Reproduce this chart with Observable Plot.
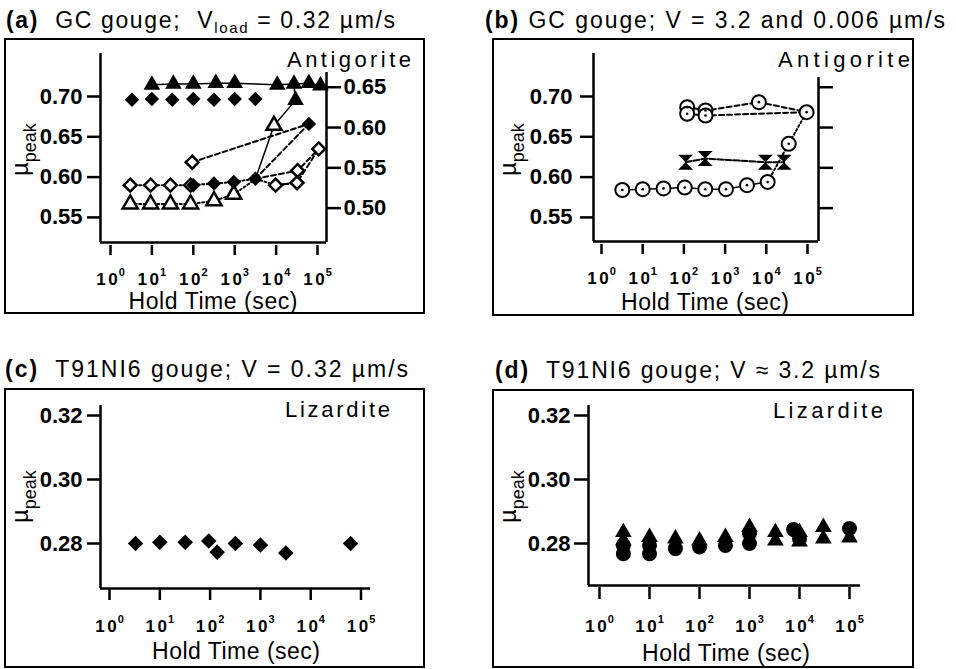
<!DOCTYPE html>
<html><head><meta charset="utf-8">
<script src="https://cdn.jsdelivr.net/npm/d3@7"></script>
<script src="https://cdn.jsdelivr.net/npm/@observablehq/plot@0.6"></script>
<style>
body{margin:0;background:#fff;}
#wrap{position:relative;width:956px;height:669px;overflow:hidden;background:#fff;}
#wrap svg{position:absolute;left:0;top:0;}
</style></head><body><div id="wrap"></div>
<script>
// ================= DATA =================
// common x ticks (hold time, s)
const holdTicks = [1, 10, 100, 1000, 10000, 100000];
const muTicksAB = [0.55, 0.60, 0.65, 0.70];
const muTicksRightA = [0.50, 0.55, 0.60, 0.65];
const muTicksCD = [0.28, 0.30, 0.32];

// panel (a) — left axis: diamonds; right axis: triangles
const aTopDiaT  = [3.3, 10, 31, 100, 316, 1000, 3160];
const aTopDiaMu = [0.696, 0.697, 0.696, 0.697, 0.696, 0.697, 0.697];
const aTopTriT   = [10, 33, 100, 350, 1000, 10700, 27000, 62000, 118000];
const aTopTriMuR = [0.653, 0.654, 0.654, 0.655, 0.655, 0.653, 0.654, 0.655, 0.652];
const aLowOpenDiaT  = [3, 9.3, 28, 86, 9700, 32000];
const aLowOpenDiaMu = [0.590, 0.590, 0.590, 0.590, 0.590, 0.593];
const aLowFillDiaT  = [100, 316, 950, 3160];
const aLowFillDiaMu = [0.590, 0.592, 0.594, 0.598];
const aHighOpenDiaT  = [94, 33000, 107000];
const aHighOpenDiaMu = [0.6185, 0.608, 0.635];
const aHighFillDiaT  = [62000];
const aHighFillDiaMu = [0.666];
const aOpenTriT   = [3, 9.3, 28, 86, 316, 950, 8900];
const aOpenTriMuR = [0.505, 0.505, 0.505, 0.505, 0.509, 0.517, 0.6025];
const aMidFillTriT   = [29500];
const aMidFillTriMuR = [0.634];
// connecting lines in (a)
const aDiaDotT  = [3, 9.3, 28, 86, 316, 950, 3160, 9700, 32000];
const aDiaDotMu = [0.590, 0.590, 0.590, 0.590, 0.592, 0.594, 0.598, 0.590, 0.593];
const aTriDotT   = [3, 9.3, 28, 86, 316, 950, 3160];
const aTriDotMuR = [0.505, 0.505, 0.505, 0.505, 0.509, 0.517, 0.536];
const aTriSolidT   = [3160, 8900, 29500, 27000];
const aTriSolidMuR = [0.536, 0.6025, 0.634, 0.653];
const aDash1T = [94, 62000],            aDash1Mu = [0.6185, 0.666];
const aDash2T = [3160, 62000],          aDash2Mu = [0.598, 0.666];
const aDash3T = [3160, 33000, 107000],  aDash3Mu = [0.598, 0.608, 0.635];
const aDash4T = [9700, 32000, 107000],  aDash4Mu = [0.590, 0.593, 0.635];

// panel (b)
const bLowCircT  = [3.2, 10, 32, 105, 330, 1050, 3400, 10800];
const bLowCircMu = [0.584, 0.585, 0.586, 0.587, 0.585, 0.585, 0.590, 0.594];
const bUpCircT  = [120, 120, 335, 335, 6600, 95000, 35000];
const bUpCircMu = [0.6868, 0.6785, 0.6826, 0.6764, 0.693, 0.6806, 0.6413];
const bHourT  = [110, 330, 9500, 27000];
const bHourMu = [0.6185, 0.623, 0.6185, 0.6185];
const bLine1T = [120, 335, 6600, 95000],   bLine1Mu = [0.6868, 0.6826, 0.693, 0.6806];
const bLine2T = [120, 335, 95000],         bLine2Mu = [0.6785, 0.6764, 0.6806];
const bTailT  = [10800, 35000, 95000],     bTailMu  = [0.594, 0.6413, 0.6806];

// panel (c)
const cT  = [3.3, 10, 32, 94, 138, 318, 1000, 3200, 62000];
const cMu = [0.2800, 0.2804, 0.2804, 0.2808, 0.2773, 0.2800, 0.2795, 0.2770, 0.2800];

// panel (d)
const dTriT  = [3, 3, 10, 33, 100, 330, 1000, 3300, 3300, 10000, 10000, 30000, 30000, 100000];
const dTriMu = [0.2835, 0.2809, 0.2820, 0.2815, 0.2809, 0.2820, 0.2851, 0.2835, 0.2809, 0.2835, 0.2806, 0.2851, 0.2815, 0.2818];
const dCircT  = [3, 3, 10, 10, 33, 100, 330, 1000, 1000, 7600, 10000, 100000];
const dCircMu = [0.2794, 0.2768, 0.2794, 0.2768, 0.2784, 0.2789, 0.2794, 0.2831, 0.2800, 0.2844, 0.2815, 0.2847];

// ================= LAYOUT / STYLE =================
const W = 956, H = 669;
const FONT = '"Liberation Sans", Arial, Helvetica, sans-serif';
const RIGHT_OFFSET = 0.0615; // right-axis (a,b) mapped onto left scale
const pts = (T, M, off = 0) => T.map((t, i) => ({t, m: M[i] + off}));

const hourglass = {
  draw(ctx, size) {
    const s = Math.sqrt(size / Math.PI);
    ctx.moveTo(-s, -s); ctx.lineTo(s, -s); ctx.lineTo(-s, s); ctx.lineTo(s, s); ctx.closePath();
  }
};

function geom(p) {
  const xd = [10 ** ((p.L - p.x0) / p.dec), 10 ** ((p.R - p.x0) / p.dec)];
  const yd = [p.yRef[0] - (p.B - p.yRef[1]) / p.yPx, p.yRef[0] + (p.yRef[1] - p.T) / p.yPx];
  return {xd, yd};
}

const wrap = document.getElementById("wrap");

function makePlot(p, marks) {
  const svg = Plot.plot({
    width: W, height: H,
    marginLeft: p.L, marginTop: p.T, marginRight: W - p.R, marginBottom: H - p.B,
    x: {type: "log", domain: p.xd},
    y: {domain: p.yd},
    style: {background: "transparent", fontFamily: FONT, color: "black", overflow: "visible"},
    marks
  });
  wrap.appendChild(svg);
  // superscript exponents on x tick labels
  d3.select(svg).selectAll('g[aria-label="x-axis tick label"] text').each(function () {
    const s = this.textContent;
    if (!s.includes("^")) return;
    const [b, e] = s.split("^");
    const el = d3.select(this);
    el.text(null).attr("font-size", 17);
    el.append("tspan").text(b[0]).attr("letter-spacing", 2.5);
    el.append("tspan").text(b.slice(1));
    el.append("tspan").text(e).attr("font-size", 11).attr("dy", "-0.75em").attr("dx", 1);
  });
  return svg;
}

function txt(svg, {x, y, anchor = "start", size = 21, weight = "normal", rotate = 0, spacing = 0, len = null, parts}) {
  const t = d3.select(svg).append("text")
    .attr("transform", `translate(${x},${y}) rotate(${rotate})`)
    .attr("text-anchor", anchor).attr("font-size", size).attr("font-weight", weight)
    .attr("font-family", FONT).attr("fill", "black").attr("letter-spacing", spacing)
    .style("white-space", "pre");
  if (len) t.attr("textLength", len).attr("lengthAdjust", "spacing");
  for (const q of parts) {
    const s = t.append("tspan").text(q.t);
    if (q.size) s.attr("font-size", q.size);
    if (q.weight) s.attr("font-weight", q.weight);
    if (q.dy) s.attr("dy", q.dy);
    if (q.ls != null) s.attr("letter-spacing", q.ls);
  }
  return t;
}
function box(svg, x, y, w, h) {
  d3.select(svg).append("rect").attr("x", x).attr("y", y).attr("width", w).attr("height", h)
    .attr("fill", "none").attr("stroke", "black").attr("stroke-width", 2);
}

const tickFmtX = d => "10^" + Math.round(Math.log10(d));
const axisCommon = {fontSize: 22, fontWeight: "bold", strokeWidth: 2.5, label: null};
const axisXCommon = {ticks: holdTicks, tickFormat: tickFmtX, fontSize: 17, fontWeight: "bold", strokeWidth: 2.5, label: null};
const lineStyle = {x: "t", y: "m", stroke: "black", strokeWidth: 2};
const DASH = "5,3", DOT = "2,2.5";
const TITLE = 23, MINERAL = 22, XLAB = 23;

// ---------- panel (a) ----------
{
  const p = {L: 100, T: 53, R: 326, B: 242, x0: 110, dec: 41.4, yRef: [0.70, 96], yPx: 806};
  Object.assign(p, geom(p));
  const svg = makePlot(p, [
    Plot.ruleX([p.xd[0]], {strokeWidth: 2.5}),
    Plot.ruleX([p.xd[1]], {y1: p.yd[0], y2: 0.7298, strokeWidth: 2.5}),
    Plot.ruleY([p.yd[0]], {strokeWidth: 2.5}),
    Plot.axisY({...axisCommon, ticks: muTicksAB, tickFormat: d => d.toFixed(2), tickSize: 13, tickPadding: 5}),
    Plot.axisY({...axisCommon, anchor: "right", ticks: muTicksRightA.map(v => v + RIGHT_OFFSET), tickFormat: d => (d - RIGHT_OFFSET).toFixed(2), tickSize: 14, tickPadding: 3}),
    Plot.axisX({...axisXCommon, tickSize: 10, tickPadding: 17, dy: 3}),
    Plot.line(pts(aDiaDotT, aDiaDotMu), {...lineStyle, strokeDasharray: DOT}),
    Plot.line(pts(aTriDotT, aTriDotMuR, RIGHT_OFFSET), {...lineStyle, strokeDasharray: DOT}),
    Plot.line(pts(aTriSolidT, aTriSolidMuR, RIGHT_OFFSET), {...lineStyle, strokeWidth: 1.5}),
    Plot.line(pts(aTopTriT, aTopTriMuR, RIGHT_OFFSET), {...lineStyle, strokeWidth: 1.5}),
    Plot.line(pts(aDash1T, aDash1Mu), {...lineStyle, strokeDasharray: DASH}),
    Plot.line(pts(aDash2T, aDash2Mu), {...lineStyle, strokeDasharray: DASH}),
    Plot.line(pts(aDash3T, aDash3Mu), {...lineStyle, strokeDasharray: DASH}),
    Plot.line(pts(aDash4T, aDash4Mu), {...lineStyle, strokeDasharray: DASH}),
    Plot.dot(pts(aTopDiaT, aTopDiaMu), {x: "t", y: "m", symbol: "diamond2", r: 6.5, fill: "black"}),
    Plot.dot(pts(aTopTriT, aTopTriMuR, RIGHT_OFFSET), {x: "t", y: "m", symbol: "triangle", r: 6.2, fill: "black"}),
    Plot.dot(pts(aLowOpenDiaT, aLowOpenDiaMu), {x: "t", y: "m", symbol: "diamond2", r: 5.8, fill: "white", stroke: "black", strokeWidth: 2.5}),
    Plot.dot(pts(aHighOpenDiaT, aHighOpenDiaMu), {x: "t", y: "m", symbol: "diamond2", r: 5.8, fill: "white", stroke: "black", strokeWidth: 2.5}),
    Plot.dot(pts(aOpenTriT, aOpenTriMuR, RIGHT_OFFSET), {x: "t", y: "m", symbol: "triangle", r: 5.6, fill: "white", stroke: "black", strokeWidth: 2.5}),
    Plot.dot(pts(aLowFillDiaT, aLowFillDiaMu), {x: "t", y: "m", symbol: "diamond2", r: 6.5, fill: "black"}),
    Plot.dot(pts(aHighFillDiaT, aHighFillDiaMu), {x: "t", y: "m", symbol: "diamond2", r: 6.5, fill: "black"}),
    Plot.dot(pts(aMidFillTriT, aMidFillTriMuR, RIGHT_OFFSET), {x: "t", y: "m", symbol: "triangle", r: 6.2, fill: "black"})
  ]);
  box(svg, 5, 39, 419, 274);
  txt(svg, {x: 6, y: 28, size: TITLE, len: 389, parts: [{t: "(a)", weight: "bold"}, {t: "  GC gouge;  V"}, {t: "load", size: 15, dy: 5}, {t: " = 0.32 µm/s", dy: -5}]});
  txt(svg, {x: 411, y: 67, anchor: "end", size: MINERAL, len: 124, parts: [{t: "Antigorite"}]});
  txt(svg, {x: 213, y: 309, anchor: "middle", size: XLAB, len: 169, parts: [{t: "Hold Time (sec)"}]});
  txt(svg, {x: 28, y: 176, rotate: -90, size: 24, parts: [{t: "µ"}, {t: "peak", size: 18, dy: 8}]});
}

// ---------- panel (b) ----------
{
  const p = {L: 593, T: 53, R: 818, B: 241, x0: 601, dec: 41.2, yRef: [0.70, 96], yPx: 806};
  Object.assign(p, geom(p));
  const svg = makePlot(p, [
    Plot.ruleX([p.xd[0]], {strokeWidth: 2.5}),
    Plot.ruleX([p.xd[1]], {y1: p.yd[0], y2: 0.7236, strokeWidth: 2.5}),
    Plot.ruleY([p.yd[0]], {strokeWidth: 2.5}),
    Plot.axisY({...axisCommon, ticks: muTicksAB, tickFormat: d => d.toFixed(2), tickSize: 13, tickPadding: 8}),
    Plot.axisY({...axisCommon, anchor: "right", ticks: muTicksRightA.map(v => v + RIGHT_OFFSET), tickFormat: () => "", tickSize: 14}),
    Plot.axisX({...axisXCommon, tickSize: 10, tickPadding: 17, dy: 3}),
    Plot.line(pts(bLowCircT, bLowCircMu), {...lineStyle, strokeWidth: 1.5}),
    Plot.line(pts(bTailT, bTailMu), {...lineStyle, strokeDasharray: DOT}),
    Plot.line(pts(bLine1T, bLine1Mu), {...lineStyle, strokeDasharray: DASH}),
    Plot.line(pts(bLine2T, bLine2Mu), {...lineStyle, strokeDasharray: DASH}),
    Plot.line(pts(bHourT, bHourMu), {...lineStyle, strokeDasharray: "6,2"}),
    Plot.dot(pts(bLowCircT, bLowCircMu), {x: "t", y: "m", r: 7, fill: "white", stroke: "black", strokeWidth: 2}),
    Plot.dot(pts(bLowCircT, bLowCircMu), {x: "t", y: "m", r: 1.3, fill: "black"}),
    Plot.dot(pts(bUpCircT, bUpCircMu), {x: "t", y: "m", r: 7, fill: "white", stroke: "black", strokeWidth: 2}),
    Plot.dot(pts(bUpCircT, bUpCircMu), {x: "t", y: "m", r: 1.3, fill: "black"}),
    Plot.dot(pts(bHourT, bHourMu), {x: "t", y: "m", symbol: hourglass, r: 7.5, fill: "black"})
  ]);
  box(svg, 493, 39, 420, 276);
  txt(svg, {x: 485, y: 28, size: TITLE, len: 460, parts: [{t: "(b)", weight: "bold"}, {t: " GC gouge; V = 3.2 and 0.006 µm/s"}]});
  txt(svg, {x: 910, y: 67, anchor: "end", size: MINERAL, len: 132, parts: [{t: "Antigorite"}]});
  txt(svg, {x: 705, y: 310, anchor: "middle", size: XLAB, len: 168, parts: [{t: "Hold Time (sec)"}]});
  txt(svg, {x: 516, y: 176, rotate: -90, size: 24, parts: [{t: "µ"}, {t: "peak", size: 18, dy: 8}]});
}

// ---------- panel (c) ----------
{
  const p = {L: 100, T: 405, R: 370, B: 588, x0: 109, dec: 50.3, yRef: [0.28, 543], yPx: 3200};
  Object.assign(p, geom(p));
  const svg = makePlot(p, [
    Plot.ruleX([p.xd[0]], {strokeWidth: 2.5}),
    Plot.ruleY([p.yd[0]], {strokeWidth: 2.5}),
    Plot.axisY({...axisCommon, ticks: muTicksCD, tickFormat: d => d.toFixed(2), tickSize: 13, tickPadding: 5}),
    Plot.axisX({...axisXCommon, tickSize: 12, tickPadding: 19}),
    Plot.dot(pts(cT, cMu), {x: "t", y: "m", symbol: "diamond2", r: 7, fill: "black"})
  ]);
  box(svg, 5, 389, 419, 278);
  txt(svg, {x: 5, y: 377, size: TITLE, len: 403, parts: [{t: "(c)", weight: "bold"}, {t: "  T91NI6 gouge; V = 0.32 µm/s"}]});
  txt(svg, {x: 390, y: 417, anchor: "end", size: MINERAL, len: 105, parts: [{t: "Lizardite"}]});
  txt(svg, {x: 236, y: 659, anchor: "middle", size: XLAB, len: 168, parts: [{t: "Hold Time (sec)"}]});
  txt(svg, {x: 28, y: 523, rotate: -90, size: 24, parts: [{t: "µ"}, {t: "peak", size: 18, dy: 8}]});
}

// ---------- panel (d) ----------
{
  const p = {L: 588, T: 405, R: 860, B: 585, x0: 599, dec: 50, yRef: [0.28, 543], yPx: 3200};
  Object.assign(p, geom(p));
  const svg = makePlot(p, [
    Plot.ruleX([p.xd[0]], {strokeWidth: 2.5}),
    Plot.ruleY([p.yd[0]], {strokeWidth: 2.5}),
    Plot.axisY({...axisCommon, ticks: muTicksCD, tickFormat: d => d.toFixed(2), tickSize: 14, tickPadding: 4}),
    Plot.axisX({...axisXCommon, tickSize: 12, tickPadding: 20, dy: 2}),
    Plot.dot(pts(dCircT, dCircMu), {x: "t", y: "m", r: 7.5, fill: "black"}),
    Plot.dot(pts(dTriT, dTriMu), {x: "t", y: "m", symbol: "triangle", r: 6.2, fill: "black"})
  ]);
  box(svg, 493, 390, 420, 277);
  txt(svg, {x: 495, y: 378, size: TITLE, len: 385, parts: [{t: "(d)", weight: "bold"}, {t: "  T91NI6 gouge; V ≈ 3.2 µm/s"}]});
  txt(svg, {x: 883, y: 418, anchor: "end", size: MINERAL, len: 110, parts: [{t: "Lizardite"}]});
  txt(svg, {x: 726, y: 661, anchor: "middle", size: XLAB, len: 168, parts: [{t: "Hold Time (sec)"}]});
  txt(svg, {x: 516, y: 523, rotate: -90, size: 24, parts: [{t: "µ"}, {t: "peak", size: 18, dy: 8}]});
}
</script>
</body></html>
